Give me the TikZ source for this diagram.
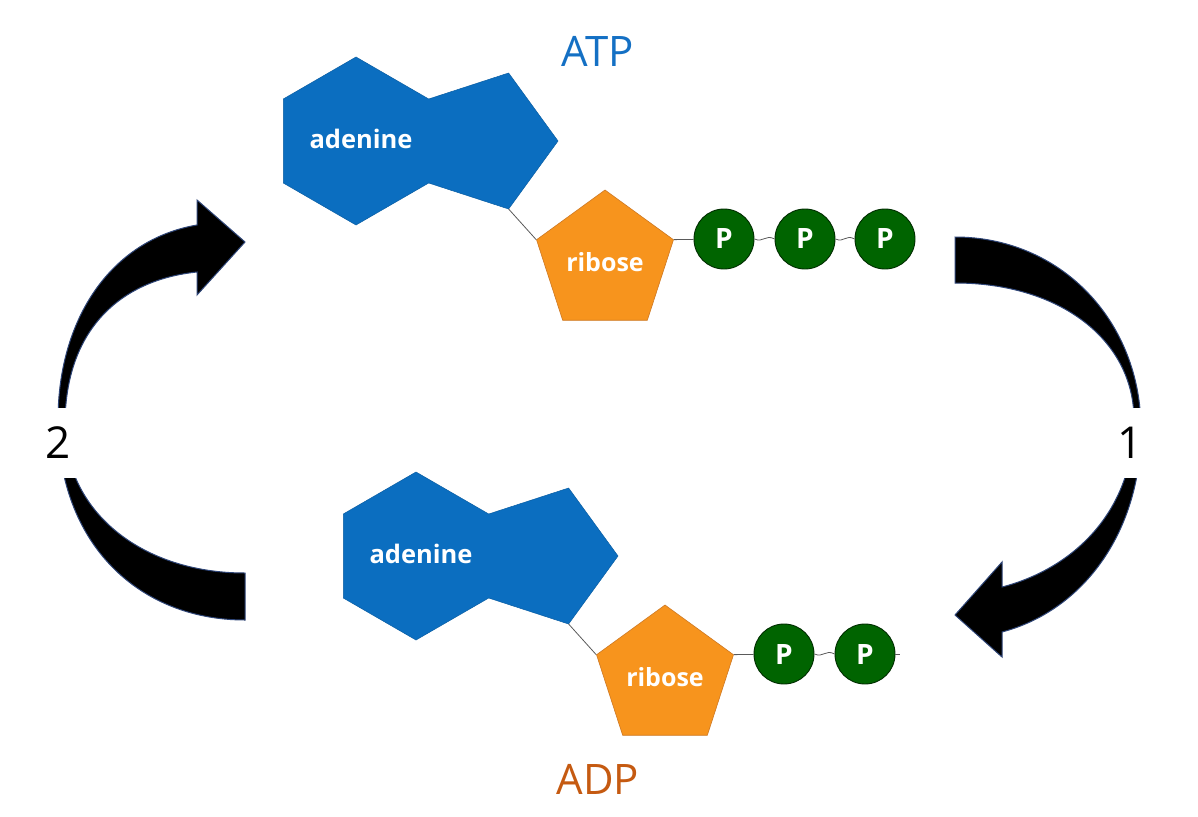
\documentclass[tikz,border=0pt]{standalone}
\usepackage{fontspec}
\setmainfont{Open Sans}
\usetikzlibrary{shapes.geometric}
\definecolor{adeblue}{RGB}{11,110,192}
\definecolor{ribor}{RGB}{247,148,29}
\definecolor{ribedge}{RGB}{205,120,35}
\definecolor{pgreen}{RGB}{0,100,0}
\definecolor{pedge}{RGB}{0,45,0}
\definecolor{atpblue}{RGB}{20,112,196}
\definecolor{adpor}{RGB}{197,90,17}
\definecolor{arrowedge}{RGB}{47,70,120}
\definecolor{linkgray}{RGB}{90,90,90}
\begin{document}
\begin{tikzpicture}[x=1pt,y=-1pt,
 adenine/.style={fill=adeblue, draw=adeblue!85!black, line width=0.5pt},
 ribosebox/.style={regular polygon, regular polygon sides=5, minimum size=144pt, inner sep=0pt, fill=ribor, draw=ribedge, line width=0.6pt, text=white, font=\fontsize{25}{28}\selectfont\bfseries},
 pball/.style={circle, minimum size=60pt, inner sep=0pt, fill=pgreen, draw=pedge, line width=0.9pt, text=white, font=\fontsize{28}{30}\selectfont\bfseries},
 molname/.style={text=white, font=\fontsize{25.5}{28}\selectfont\bfseries},
 link/.style={draw=linkgray, line width=0.8pt},
 bigarrow/.style={fill=black, draw=arrowedge, line width=1pt, line join=miter},
 steplabel/.style={fill=white, inner sep=0pt, minimum width=80pt, minimum height=70pt, font=\fontsize{44}{48}\selectfont},
 titlelabel/.style={font=\fontsize{42}{46}\selectfont}
]
\useasboundingbox (0,0) rectangle (1198,816);

% ---------- ATP ----------
\path[adenine] (356,57) -- (428.7,99) -- (508.6,73) -- (558,141) -- (508.6,209) -- (428.7,183) -- (356,225) -- (283.3,183) -- (283.3,99) -- cycle;
\coordinate (adeAc) at (508.6,209);
\node[molname] (adeA) at (361,139) {adenine};
\node[ribosebox] (ribA) at (605,262) {ribose};
\draw[link] (adeAc) -- (ribA.corner 2);
\node[pball] (pA1) at (724,239) {P};
\node[pball] (pA2) at (805,239) {P};
\node[pball] (pA3) at (885,239) {P};
\draw[link] (ribA.corner 5) -- (pA1);
\draw[link] (pA1.east) .. controls +(9,4) and +(-9,-5) .. (pA2.west);
\draw[link] (pA2.east) .. controls +(9,4) and +(-9,-5) .. (pA3.west);
\node[titlelabel, text=atpblue] (atp) at (598,51) {ATP};

% ---------- ADP ----------
\begin{scope}[shift={(60,415)}]
\path[adenine] (356,57) -- (428.7,99) -- (508.6,73) -- (558,141) -- (508.6,209) -- (428.7,183) -- (356,225) -- (283.3,183) -- (283.3,99) -- cycle;
\coordinate (adeBc) at (508.6,209);
\node[molname] (adeB) at (361,139) {adenine};
\node[ribosebox] (ribB) at (605,262) {ribose};
\draw[link] (adeBc) -- (ribB.corner 2);
\node[pball] (pB1) at (724,239) {P};
\node[pball] (pB2) at (805,239) {P};
\draw[link] (ribB.corner 5) -- (pB1);
\draw[link] (pB1.east) .. controls +(9,4) and +(-9,-5) .. (pB2.west);
\coordinate (tailB) at (840,239);
\draw[link] (pB2.east) -- (tailB);
\end{scope}
\node[titlelabel, text=adpor] (adp) at (598,779) {ADP};

% ---------- left curved arrow (2) ----------
\path[bigarrow] (245,620) -- (245,573) .. controls (140,573) and (65,510) .. (65,425)
  .. controls (65,330) and (120,280) .. (197,272) -- (197,295) -- (245,242) -- (197,200) -- (197,225)
  .. controls (110,240) and (58,320) .. (58,420) .. controls (58,545) and (140,620) .. (245,620) -- cycle;

% ---------- right curved arrow (1) ----------
\path[bigarrow] (955,237) -- (955,283) .. controls (1060,283) and (1134,340) .. (1134,420)
  .. controls (1134,510) and (1075,568) .. (1002,587) -- (1002,562) -- (955,615) -- (1002,657) -- (1002,632)
  .. controls (1085,610) and (1141,530) .. (1141,430) .. controls (1141,320) and (1060,237) .. (955,237) -- cycle;

\node[steplabel] (two) at (58,443) {2};
\node[steplabel] (one) at (1130,443) {1};
\end{tikzpicture}
\end{document}
